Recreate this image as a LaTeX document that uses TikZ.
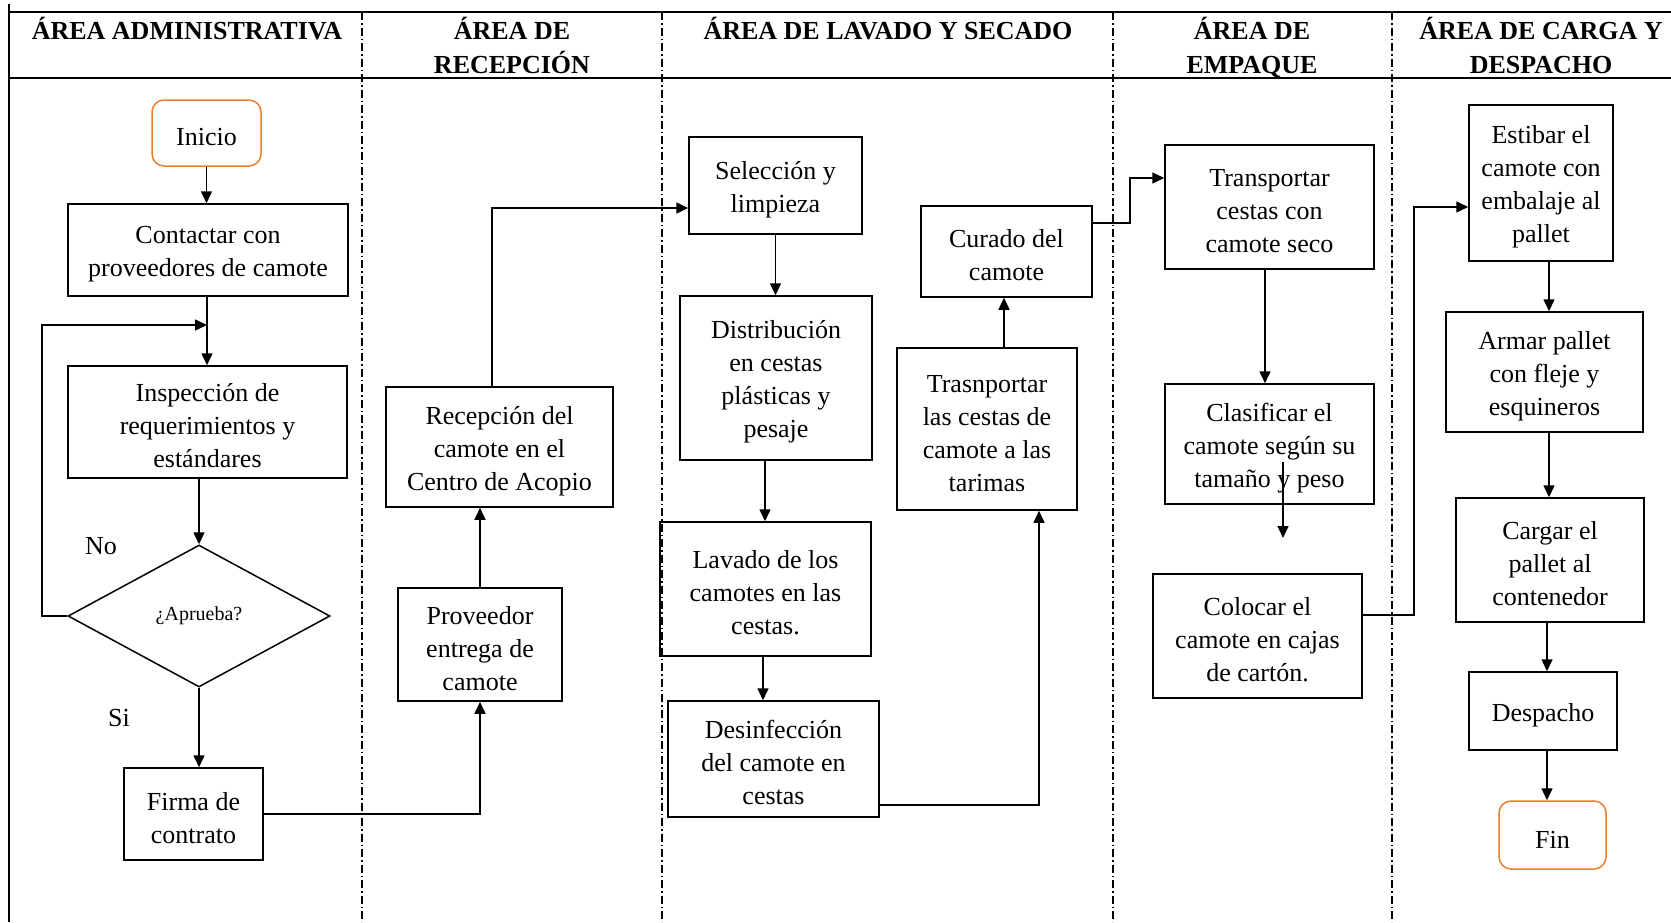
\documentclass[tikz,border=0pt]{standalone}
\usepackage{fontspec}
\setmainfont{Liberation Serif}
\usetikzlibrary{arrows.meta,shapes.geometric,calc}
\definecolor{orangeb}{RGB}{237,125,49}
\newcommand{\fstrut}{\rule{0pt}{26pt}}
\begin{document}
\begin{tikzpicture}[x=1pt,y=-1pt,
 box/.style={draw,line width=1.5pt,inner sep=0pt,align=center,font=\fontsize{26}{33}\selectfont},
 term/.style={box,draw=orangeb,rounded corners=12pt},
 arr/.style={line width=1.5pt,-{Triangle[length=12pt,width=11pt]}},
 hdr/.style={font=\bfseries\fontsize{26}{34}\selectfont,anchor=base,inner sep=0pt},
 lane/.style={line width=1.2pt,dash pattern=on 8pt off 3pt on 1.5pt off 3pt},
 tline/.style={line width=2pt},
 lbl/.style={font=\fontsize{26}{33}\selectfont,inner sep=0pt}]
\useasboundingbox (0,0) rectangle (1671,922);
% table
\coordinate (tl) at (9,4);
\coordinate (bl) at (9,922);
\coordinate (t1) at (9,12);
\coordinate (t2) at (1671,12);
\coordinate (h1) at (9,78);
\coordinate (h2) at (1671,78);
\draw[line width=1.5pt] (tl) -- (bl);
\draw[tline] (t1) -- (t2);
\draw[tline] (h1) -- (h2);
\foreach \xx/\nm in {362/d1,662/d2,1113/d3,1392/d4}{
  \coordinate (\nm a) at (\xx,12);
  \coordinate (\nm b) at (\xx,922);
  \draw[lane] (\nm a) -- (\nm b);
}
% headers
\node[hdr] (h1a) at (187,39) {ÁREA ADMINISTRATIVA};
\node[hdr] (h2a) at (512,39) {ÁREA DE};
\node[hdr] (h2b) at (512,73) {RECEPCIÓN};
\node[hdr] (h3a) at (888,39) {ÁREA DE LAVADO Y SECADO};
\node[hdr] (h4a) at (1252,39) {ÁREA DE};
\node[hdr] (h4b) at (1252,73) {EMPAQUE};
\node[hdr] (h5a) at (1541,39) {ÁREA DE CARGA Y};
\node[hdr] (h5b) at (1541,73) {DESPACHO};
% nodes
\node[term,minimum width=109pt,minimum height=66pt] (inicio) at (206.5,133) {\fstrut Inicio};
\node[box,minimum width=280pt,minimum height=92pt] (contactar) at (208,250) {\fstrut Contactar con\\proveedores de camote};
\node[box,minimum width=279pt,minimum height=112pt] (inspeccion) at (207.5,422) {\fstrut Inspección de\\requerimientos y\\estándares};
\node[diamond,draw,line width=1.5pt,inner sep=0pt,aspect=1.845,minimum width=262pt,minimum height=142pt,font=\fontsize{20}{24}\selectfont] (aprueba) at (199,616) {¿Aprueba?};
\node[lbl] (no) at (101,546) {No};
\node[lbl] (si) at (119,718) {Si};
\node[box,minimum width=139pt,minimum height=92pt] (firma) at (193.5,814) {\fstrut Firma de\\contrato};
\node[box,minimum width=227pt,minimum height=120pt] (recepcion) at (499.5,447) {\fstrut Recepción del\\camote en el\\Centro de Acopio};
\node[box,minimum width=164pt,minimum height=113pt] (proveedor) at (480,644.5) {\fstrut Proveedor\\entrega de\\camote};
\node[box,minimum width=173pt,minimum height=97pt] (seleccion) at (775.5,185.5) {\fstrut Selección y\\limpieza};
\node[box,minimum width=192pt,minimum height=164pt] (distribucion) at (776,378) {\fstrut Distribución\\en cestas\\plásticas y\\pesaje};
\node[box,minimum width=211pt,minimum height=134pt] (lavado) at (765.5,589) {\fstrut Lavado de los\\camotes en las\\cestas.};
\node[box,minimum width=211pt,minimum height=116pt] (desinfeccion) at (773.5,759) {\fstrut Desinfección\\del camote en\\cestas};
\node[box,minimum width=180pt,minimum height=162pt] (trasnportar) at (987,429) {\fstrut Trasnportar\\las cestas de\\camote a las\\tarimas};
\node[box,minimum width=171pt,minimum height=91pt] (curado) at (1006.5,251.5) {\fstrut Curado del\\camote};
\node[box,minimum width=209pt,minimum height=124pt] (transportar) at (1269.5,207) {\fstrut Transportar\\cestas con\\camote seco};
\node[box,minimum width=209pt,minimum height=120pt] (clasificar) at (1269.5,444) {\fstrut Clasificar el\\camote según su\\tamaño y peso};
\node[box,minimum width=209pt,minimum height=124pt] (colocar) at (1257.5,636) {\fstrut Colocar el\\camote en cajas\\de cartón.};
\node[box,minimum width=144pt,minimum height=156pt] (estibar) at (1541,183) {\fstrut Estibar el\\camote con\\embalaje al\\pallet};
\node[box,minimum width=197pt,minimum height=120pt] (armar) at (1544.5,372) {\fstrut Armar pallet\\con fleje y\\esquineros};
\node[box,minimum width=188pt,minimum height=124pt] (cargar) at (1550,560) {\fstrut Cargar el\\pallet al\\contenedor};
\node[box,minimum width=148pt,minimum height=78pt] (despacho) at (1543,711) {\fstrut Despacho};
\node[term,minimum width=107pt,minimum height=68pt] (fin) at (1552.5,835) {\fstrut Fin};
% connectors
\draw[arr] (inicio.south) -- (inicio.south |- contactar.north);
\coordinate (cc) at (207,0);
\draw[arr] (contactar.south -| cc) -- (inspeccion.north -| cc);
\coordinate (loopL) at (42,325);
\coordinate (loopin) at (207,325);
\draw[arr] (aprueba.west) -| (loopL) -- (loopin);
\draw[arr] (inspeccion.south -| aprueba.north) -- (aprueba.north);
\draw[arr] (aprueba.south) -- (aprueba.south |- firma.north);
\draw[arr] (firma.east) -| (proveedor.south);
\draw[arr] (proveedor.north) -- (proveedor.north |- recepcion.south);
\coordinate (rs) at (492,208);
\draw[arr] (recepcion.north -| rs) |- (seleccion.west |- rs);
\draw[arr] (seleccion.south) -- (seleccion.south |- distribucion.north);
\coordinate (dl) at (765,0);
\draw[arr] (distribucion.south -| dl) -- (lavado.north -| dl);
\coordinate (ld) at (763,0);
\draw[arr] (lavado.south -| ld) -- (desinfeccion.north -| ld);
\coordinate (dt) at (1039,805);
\draw[arr] (desinfeccion.east |- dt) -| (trasnportar.south -| dt);
\coordinate (tc) at (1004,0);
\draw[arr] (trasnportar.north -| tc) -- (curado.south -| tc);
\coordinate (ct1) at (1130,223);
\coordinate (ct2) at (1130,178);
\draw[arr] (curado.east |- ct1) -- (ct1) -- (ct2) -- (transportar.west |- ct2);
\coordinate (tk) at (1265,0);
\draw[arr] (transportar.south -| tk) -- (clasificar.north -| tk);
\coordinate (g1) at (1283,462);
\coordinate (g2) at (1283,538);
\draw[arr] (g1) -- (g2);
\coordinate (ce1) at (1414,615);
\coordinate (ce2) at (1414,207);
\draw[arr] (colocar.east |- ce1) -- (ce1) -- (ce2) -- (estibar.west |- ce2);
\coordinate (c5) at (1549,0);
\coordinate (c5b) at (1547,0);
\draw[arr] (estibar.south -| c5) -- (armar.north -| c5);
\draw[arr] (armar.south -| c5) -- (cargar.north -| c5);
\draw[arr] (cargar.south -| c5b) -- (despacho.north -| c5b);
\draw[arr] (despacho.south -| c5b) -- (fin.north -| c5b);
\end{tikzpicture}
\end{document}
